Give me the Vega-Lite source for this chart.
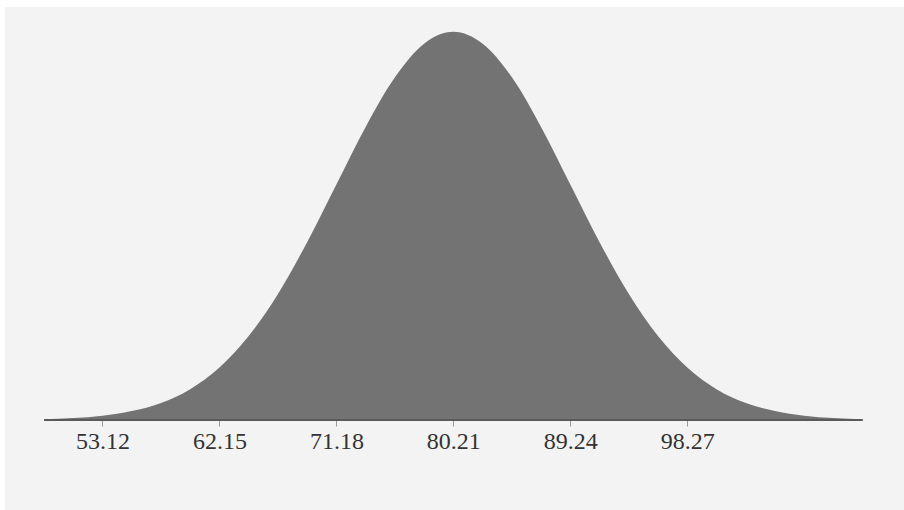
{
  "$schema": "https://vega.github.io/schema/vega-lite/v6.json",
  "autosize": {"type": "none"},
  "padding": {"left": 5, "top": 7, "right": 0, "bottom": 0},
  "width": 899,
  "height": 503,
  "background": "white",
  "config": {"view": {"fill": "#f3f3f3", "stroke": null}},
  "data": {"values": [
    {"x": 48.61, "y": 0.000097},
    {"x": 50.86, "y": 0.000225},
    {"x": 53.12, "y": 0.00049},
    {"x": 55.38, "y": 0.00101},
    {"x": 57.64, "y": 0.00194},
    {"x": 59.89, "y": 0.00351},
    {"x": 62.15, "y": 0.00598},
    {"x": 64.41, "y": 0.00955},
    {"x": 66.67, "y": 0.01434},
    {"x": 68.92, "y": 0.02023},
    {"x": 71.18, "y": 0.0268},
    {"x": 73.44, "y": 0.03335},
    {"x": 75.70, "y": 0.03899},
    {"x": 77.95, "y": 0.04282},
    {"x": 80.21, "y": 0.04418},
    {"x": 82.47, "y": 0.04282},
    {"x": 84.73, "y": 0.03899},
    {"x": 86.98, "y": 0.03335},
    {"x": 89.24, "y": 0.0268},
    {"x": 91.50, "y": 0.02023},
    {"x": 93.76, "y": 0.01434},
    {"x": 96.01, "y": 0.00955},
    {"x": 98.27, "y": 0.00598},
    {"x": 100.53, "y": 0.00351},
    {"x": 102.79, "y": 0.00194},
    {"x": 105.04, "y": 0.00101},
    {"x": 107.30, "y": 0.00049},
    {"x": 109.56, "y": 0.000225},
    {"x": 111.82, "y": 0.000097}
  ]},
  "layer": [
    {
      "mark": {"type": "area", "interpolate": "monotone", "color": "#737373"},
      "encoding": {
        "x": {
          "field": "x", "type": "quantitative",
          "scale": {"domain": [45.594, 115.004], "nice": false, "zero": false},
          "axis": {
            "values": [53.12, 62.15, 71.18, 80.21, 89.24, 98.27],
            "format": ".2f",
            "offset": -90,
            "domain": false,
            "grid": false,
            "title": null,
            "tickColor": "#999999",
            "tickSize": 6,
            "tickWidth": 1,
            "labelFont": "Liberation Serif",
            "labelFontSize": 24,
            "labelColor": "#333333",
            "labelPadding": 3,
            "labelFlush": false
          }
        },
        "y": {
          "field": "y", "type": "quantitative",
          "scale": {"domain": [-0.01024, 0.04699], "nice": false, "zero": false},
          "axis": null
        },
        "y2": {"datum": 0}
      }
    },
    {
      "mark": {"type": "rule", "color": "#5a5a5a", "strokeWidth": 2},
      "encoding": {
        "x": {"aggregate": "min", "field": "x", "type": "quantitative"},
        "x2": {"aggregate": "max", "field": "x"},
        "y": {"datum": 0, "type": "quantitative"}
      }
    }
  ]
}
